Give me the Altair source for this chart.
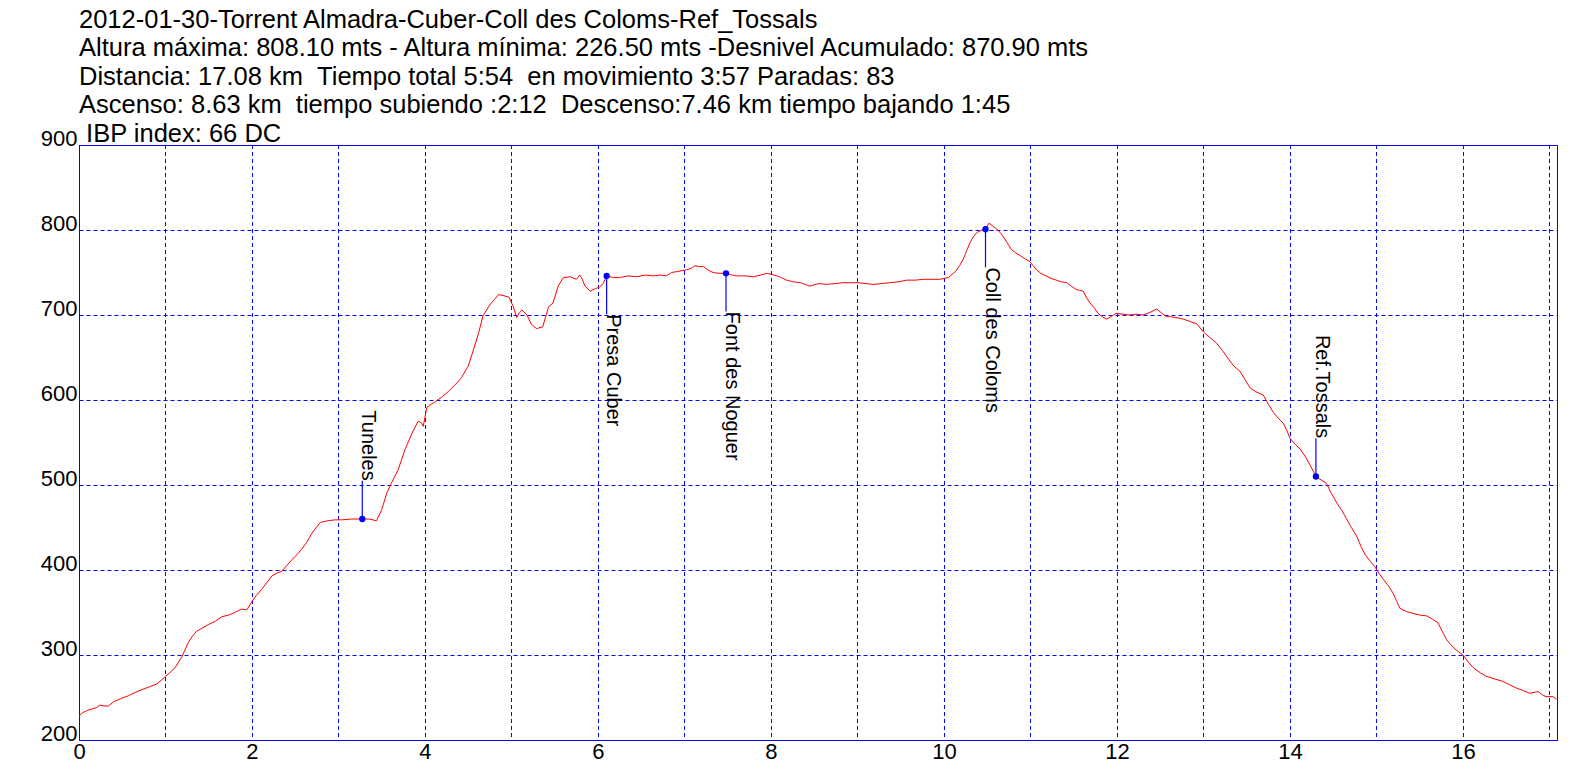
import altair as alt
import pandas as pd

# ---------------- data ----------------
KM = [0.0, 0.04, 0.1, 0.2, 0.24, 0.3, 0.34, 0.4, 0.49, 0.57, 0.65, 0.72, 0.8, 0.9, 0.96,
      1.0, 1.06, 1.11, 1.19, 1.26, 1.31, 1.36, 1.43, 1.5, 1.58, 1.65, 1.73, 1.8, 1.88, 1.94,
      2.0, 2.05, 2.11, 2.17, 2.23, 2.3, 2.34, 2.4, 2.46, 2.52, 2.57, 2.63, 2.69, 2.75, 2.79,
      2.88, 2.96, 3.04, 3.15, 3.27, 3.35, 3.44, 3.5, 3.56, 3.62, 3.69, 3.77, 3.85, 3.92, 3.96,
      3.98, 4.02, 4.07, 4.12, 4.2, 4.27, 4.35, 4.42, 4.5, 4.56, 4.62, 4.67, 4.75, 4.8, 4.85,
      4.9, 4.97, 5.02, 5.06, 5.09, 5.12, 5.18, 5.23, 5.29, 5.36, 5.43, 5.48, 5.54, 5.6, 5.68,
      5.75, 5.79, 5.81, 5.85, 5.91, 5.97, 6.02, 6.06, 6.1, 6.18, 6.25, 6.35, 6.45, 6.55, 6.64,
      6.72, 6.79, 6.85, 6.91, 6.96, 7.02, 7.08, 7.12, 7.17, 7.22, 7.27, 7.33, 7.4, 7.48, 7.55,
      7.6, 7.7, 7.8, 7.88, 7.95, 8.0, 8.07, 8.12, 8.18, 8.26, 8.34, 8.45, 8.55, 8.64, 8.75,
      8.83, 8.92, 9.0, 9.1, 9.18, 9.28, 9.37, 9.47, 9.57, 9.67, 9.76, 9.86, 9.95, 10.05, 10.13,
      10.18, 10.22, 10.26, 10.3, 10.34, 10.38, 10.44, 10.48, 10.52, 10.56, 10.61, 10.65, 10.68,
      10.73, 10.78, 10.83, 10.88, 10.94, 10.99, 11.03, 11.07, 11.12, 11.18, 11.24, 11.3, 11.36,
      11.42, 11.47, 11.53, 11.57, 11.61, 11.65, 11.69, 11.74, 11.78, 11.83, 11.88, 11.93, 11.99,
      12.07, 12.15, 12.22, 12.3, 12.38, 12.46, 12.52, 12.57, 12.62, 12.68, 12.73, 12.77, 12.83,
      12.88, 12.92, 13.0, 13.08, 13.15, 13.22, 13.29, 13.35, 13.42, 13.48, 13.54, 13.6, 13.69,
      13.75, 13.81, 13.87, 13.92, 13.96, 14.0, 14.06, 14.12, 14.18, 14.23, 14.3, 14.36, 14.42,
      14.48, 14.54, 14.6, 14.65, 14.71, 14.77, 14.82, 14.87, 14.93, 14.98, 15.03, 15.08, 15.14,
      15.19, 15.23, 15.27, 15.35, 15.42, 15.5, 15.58, 15.65, 15.71, 15.76, 15.81, 15.86, 15.92,
      16.0, 16.06, 16.12, 16.2, 16.27, 16.36, 16.46, 16.54, 16.62, 16.7, 16.77, 16.87, 16.92,
      16.96, 17.04, 17.08]

ELEV = [228, 232, 235, 238, 241, 240, 240, 245, 249, 252, 256, 259, 262, 266, 271,
        275, 280, 285, 298, 314, 322, 328, 332, 336, 340, 345, 347, 350, 354, 353,
        363, 370, 377, 385, 393, 397, 398, 405, 412, 418, 424, 432, 443, 451, 456,
        458, 459, 459, 460, 460, 460, 458, 471, 491, 504, 518, 542, 561, 575, 573,
        569, 591, 595, 598, 604, 610, 618, 626, 640, 659, 679, 699, 712, 718, 724,
        723, 721, 710, 697, 703, 706, 700, 689, 684, 686, 710, 714, 734, 744, 745,
        742, 747, 744, 734, 728, 731, 733, 737, 746, 744, 744, 746, 745, 747, 746,
        747, 746, 750, 751, 752, 753, 755, 758, 757, 757, 753, 750, 749, 749, 747,
        746, 746, 745, 747, 749, 748, 746, 744, 741, 739, 738, 734, 737, 736, 737,
        738, 738, 738, 737, 736, 737, 738, 739, 741, 741, 742, 742, 742, 744, 751,
        758, 765, 775, 785, 792, 797, 800, 801, 808, 805, 801, 797, 793,
        785, 777, 773, 770, 766, 763, 758, 753, 749, 746, 743, 741, 739,
        738, 734, 730, 729, 728, 720, 714, 708, 702, 698, 695, 698, 702,
        701, 700, 701, 700, 703, 707, 702, 698, 698, 697, 696, 695, 693,
        691, 690, 680, 673, 667, 658, 648, 640, 634, 624, 614, 610, 606,
        595, 585, 578, 573, 565, 555, 548, 542, 533, 524, 510, 506, 502,
        490, 479, 470, 461, 450, 440, 428, 418, 410, 404, 396, 389, 381,
        373, 364, 355, 351, 349, 347, 346, 342, 338, 328, 318, 312, 306,
        300, 292, 285, 279, 275, 272, 269, 265, 261, 258, 255, 257, 253,
        251, 251, 248]

WP_NAME = ["Tuneles", "Presa Cuber", "Font des Noguer", "Coll des Coloms", "Ref.Tossals"]
WP_KM = [3.275, 6.1, 7.48, 10.48, 14.3]
WP_ELEV = [460, 746, 749, 801, 510]
WP_DIR = ["up", "down", "down", "down", "up"]

NB = "\u00a0"
TITLE_LINES = [
    "2012-01-30-Torrent Almadra-Cuber-Coll des Coloms-Ref_Tossals",
    "Altura máxima: 808.10 mts - Altura mínima: 226.50 mts -Desnivel Acumulado: 870.90 mts",
    f"Distancia: 17.08 km {NB}Tiempo total 5:54 {NB}en movimiento 3:57 Paradas: 83",
    f"Ascenso: 8.63 km {NB}tiempo subiendo :2:12 {NB}Descenso:7.46 km tiempo bajando 1:45",
    f"\u200b{NB}IBP index: 66 DC",
]

X_GRID = list(range(0, 18))        # vertical grid every km
X_LABELS = list(range(0, 18, 2))   # labelled every 2 km
Y_TICKS = list(range(200, 1000, 100))
X_MAX = 17.087                     # right edge of the plot, km

# ---------------- chart ----------------
FONT = "Liberation Sans"
BLUE = "#0000ff"
STICK = 45  # length of the waypoint stick, in metres

track = pd.DataFrame({"km": KM, "elev": ELEV})
wp = pd.DataFrame({"name": WP_NAME, "km": WP_KM, "elev": WP_ELEV, "dir": WP_DIR})
wp["end"] = wp["elev"] + wp["dir"].map({"up": STICK, "down": -STICK})
vgrid = pd.DataFrame({"km": X_GRID})
vgrid["odd"] = vgrid["km"] % 2

xscale = alt.Scale(domain=[0, X_MAX], nice=False, zero=False)
yscale = alt.Scale(domain=[200, 900], nice=False, zero=False)

xaxis = alt.Axis(values=X_LABELS, format="d", title=None, grid=False)
yaxis = alt.Axis(values=Y_TICKS, format="d", title=None, grid=True,
                 labelBaseline="alphabetic", labelAlign="right", labelPadding=2)
X_ENC = alt.X("km:Q", scale=xscale, axis=xaxis)

grid_even = alt.Chart(vgrid).transform_filter(alt.datum.odd == 0).mark_rule(
    color=BLUE, strokeWidth=1, strokeDash=[4, 3], xOffset=0.5).encode(x=X_ENC)
grid_odd = alt.Chart(vgrid).transform_filter(alt.datum.odd == 1).mark_rule(
    color=BLUE, strokeWidth=1, strokeDash=[4, 3], xOffset=0).encode(x=X_ENC)

line = alt.Chart(track).mark_line(color="#ff0000", strokeWidth=1, clip=True).encode(
    x=X_ENC,
    y=alt.Y("elev:Q", scale=yscale, axis=yaxis),
    order="km:Q",
)

base_wp = alt.Chart(wp)
sticks = base_wp.mark_rule(color=BLUE, strokeWidth=1.2).encode(
    x=X_ENC, y=alt.Y("elev:Q", scale=yscale, axis=yaxis), y2="end:Q")
dots = base_wp.mark_circle(color=BLUE, opacity=1, size=40).encode(
    x=X_ENC, y=alt.Y("elev:Q", scale=yscale, axis=yaxis))
lab_down = base_wp.transform_filter(alt.datum.dir == "down").mark_text(
    angle=90, align="left", baseline="alphabetic", font=FONT, fontSize=20, color="black"
).encode(x=X_ENC, y=alt.Y("end:Q", scale=yscale, axis=yaxis), text="name:N")
lab_up = base_wp.transform_filter(alt.datum.dir == "up").mark_text(
    angle=90, align="right", baseline="alphabetic", font=FONT, fontSize=20, color="black"
).encode(x=X_ENC, y=alt.Y("end:Q", scale=yscale, axis=yaxis), text="name:N")

chart = alt.layer(grid_even, grid_odd, line, sticks, dots, lab_down, lab_up).properties(
    width=1478, height=595,
    background="white",
    title=alt.TitleParams(text=TITLE_LINES, anchor="start", frame="group",
                          font=FONT, fontSize=25.5, fontWeight="normal", color="black",
                          lineHeight=28.5, offset=-20),
    autosize=alt.AutoSizeParams(type="none"),
    padding={"left": 71, "top": 137, "right": 30, "bottom": 30},
).configure_view(
    stroke=BLUE, strokeWidth=1
).configure_axis(
    gridColor=BLUE, gridDash=[4, 3], gridWidth=1, gridOpacity=1,
    ticks=False, domain=False, labelFont=FONT, labelFontSize=22, labelColor="black",
    labelFlush=False, labelOverlap=False,
).configure_axisX(
    labelPadding=1
)

chart.save("out.html", embed_options={"renderer": "svg", "actions": False})
